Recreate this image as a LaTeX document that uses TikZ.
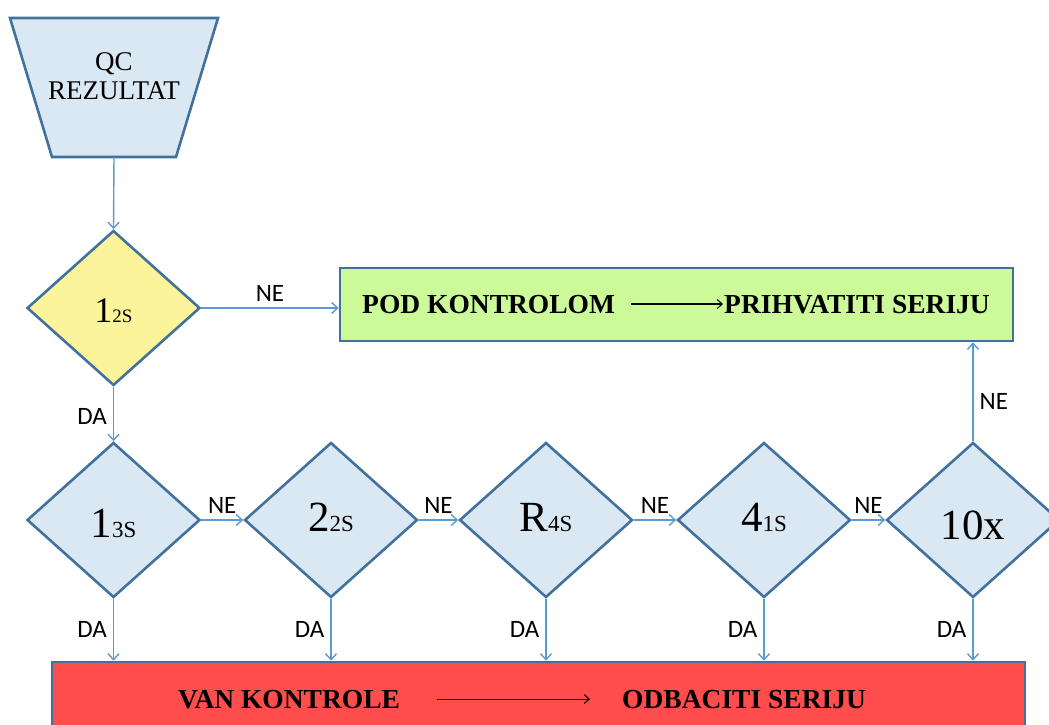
\documentclass[tikz,border=0pt]{standalone}
\usepackage{fontspec}
\setmainfont{Liberation Serif}
\newfontfamily\labfont{Carlito}
\usetikzlibrary{shapes.geometric,arrows.meta}
\definecolor{edgeblue}{HTML}{41719C}
\definecolor{lineblue}{HTML}{5B9BD5}
\definecolor{dfill}{HTML}{DAE8F4}
\definecolor{yfill}{HTML}{FBF49B}
\definecolor{gfill}{HTML}{CCFA99}
\definecolor{rfill}{HTML}{FF4D4D}
\begin{document}
\begin{tikzpicture}[x=1pt,y=-1pt,
  dec/.style={diamond, draw=edgeblue, line width=2.6pt, fill=dfill,
    minimum width=173pt, minimum height=155pt, inner sep=0pt},
  dtext/.style={font=\fontsize{43}{43}\selectfont, inner sep=0pt},
  box/.style={rectangle, draw=edgeblue, line width=2.6pt, inner sep=0pt},
  conn/.style={draw=lineblue, line width=1.4pt, -{Straight Barb[length=6pt,width=11pt]}},
  blackarrow/.style={draw=black, line width=1.1pt, -{Straight Barb[length=5pt,width=9pt]}},
  lab/.style={font=\labfont\fontsize{25}{25}\selectfont, text=black, inner sep=2pt},
  boxtext/.style={font=\bfseries\fontsize{27.5}{27.5}\selectfont, anchor=base west, inner sep=0pt}
]
\useasboundingbox (0,0) rectangle (1049,725);

% start trapezium
\draw[draw=edgeblue, line width=2.6pt, fill=dfill]
  (10,18) -- (218,18) -- (176,157) -- (52,157) -- cycle;
\node[rectangle, inner sep=0pt, minimum width=124pt, minimum height=139pt] (qc) at (114,87.5) {};
\node[align=center, font=\fontsize{27}{29}\selectfont, inner sep=0pt] (qct) at (114,76) {QC\\REZULTAT};

% decisions
\node[dec, fill=yfill, label={[dtext, font=\fontsize{36}{36}\selectfont, yshift=-3pt]center:1{\fontsize{19}{19}\selectfont 2S}}] (d0) at (113.5,308) {};
\node[dec, label={[dtext, yshift=-3pt]center:1{\fontsize{23}{23}\selectfont 3S}}] (d1) at (113.5,520) {};
\node[dec, label={[dtext, yshift=3pt]center:2{\fontsize{23}{23}\selectfont 2S}}] (d2) at (331,520) {};
\node[dec, label={[dtext, yshift=2pt]center:R{\fontsize{23}{23}\selectfont 4S}}] (d3) at (546,520) {};
\node[dec, label={[dtext, yshift=3pt]center:4{\fontsize{23}{23}\selectfont 1S}}] (d4) at (764,520) {};
\node[dec, label={[dtext, yshift=-5pt]center:10x}] (d5) at (973,520) {};

% result boxes
\node[box, fill=gfill, minimum width=673pt, minimum height=73pt] (green) at (676.5,304.5) {};
\node[box, fill=rfill, minimum width=973pt, minimum height=78pt] (red) at (538.5,701) {};

\node[boxtext] (podt) at (362,313) {POD KONTROLOM};
\node[boxtext] (prit) at (724,313) {PRIHVATITI SERIJU};
\draw[blackarrow] ([xshift=16pt]podt.east) -- ([xshift=-1pt]podt.east -| prit.west);

\node[boxtext] (vant) at (178,708) {VAN KONTROLE};
\node[boxtext] (odbt) at (622,708) {ODBACITI SERIJU};
\draw[blackarrow] ([xshift=37pt]vant.east) -- ([xshift=-32pt]vant.east -| odbt.west);

% connectors
\draw[conn] (qc.south) -- (d0.north);
\draw[conn] (d0.east) -- node[lab, above=4pt]{NE} (d0.east -| green.west);
\draw[conn] (d0.south) -- node[lab, left=4pt, pos=0.55]{DA} (d1.north);
\draw[conn] (d1.east) -- node[lab, above=4pt]{NE} (d2.west);
\draw[conn] (d2.east) -- node[lab, above=4pt]{NE} (d3.west);
\draw[conn] (d3.east) -- node[lab, above=4pt]{NE} (d4.west);
\draw[conn] (d4.east) -- node[lab, above=4pt]{NE} (d5.west);
\draw[conn] (d5.north) -- node[lab, right=4pt, pos=0.4]{NE} (d5.north |- green.south);
\draw[conn] (d1.south) -- node[lab, left=4pt]{DA} (d1.south |- red.north);
\draw[conn] (d2.south) -- node[lab, left=4pt]{DA} (d2.south |- red.north);
\draw[conn] (d3.south) -- node[lab, left=4pt]{DA} (d3.south |- red.north);
\draw[conn] (d4.south) -- node[lab, left=4pt]{DA} (d4.south |- red.north);
\draw[conn] (d5.south) -- node[lab, left=4pt]{DA} (d5.south |- red.north);
\end{tikzpicture}
\end{document}
